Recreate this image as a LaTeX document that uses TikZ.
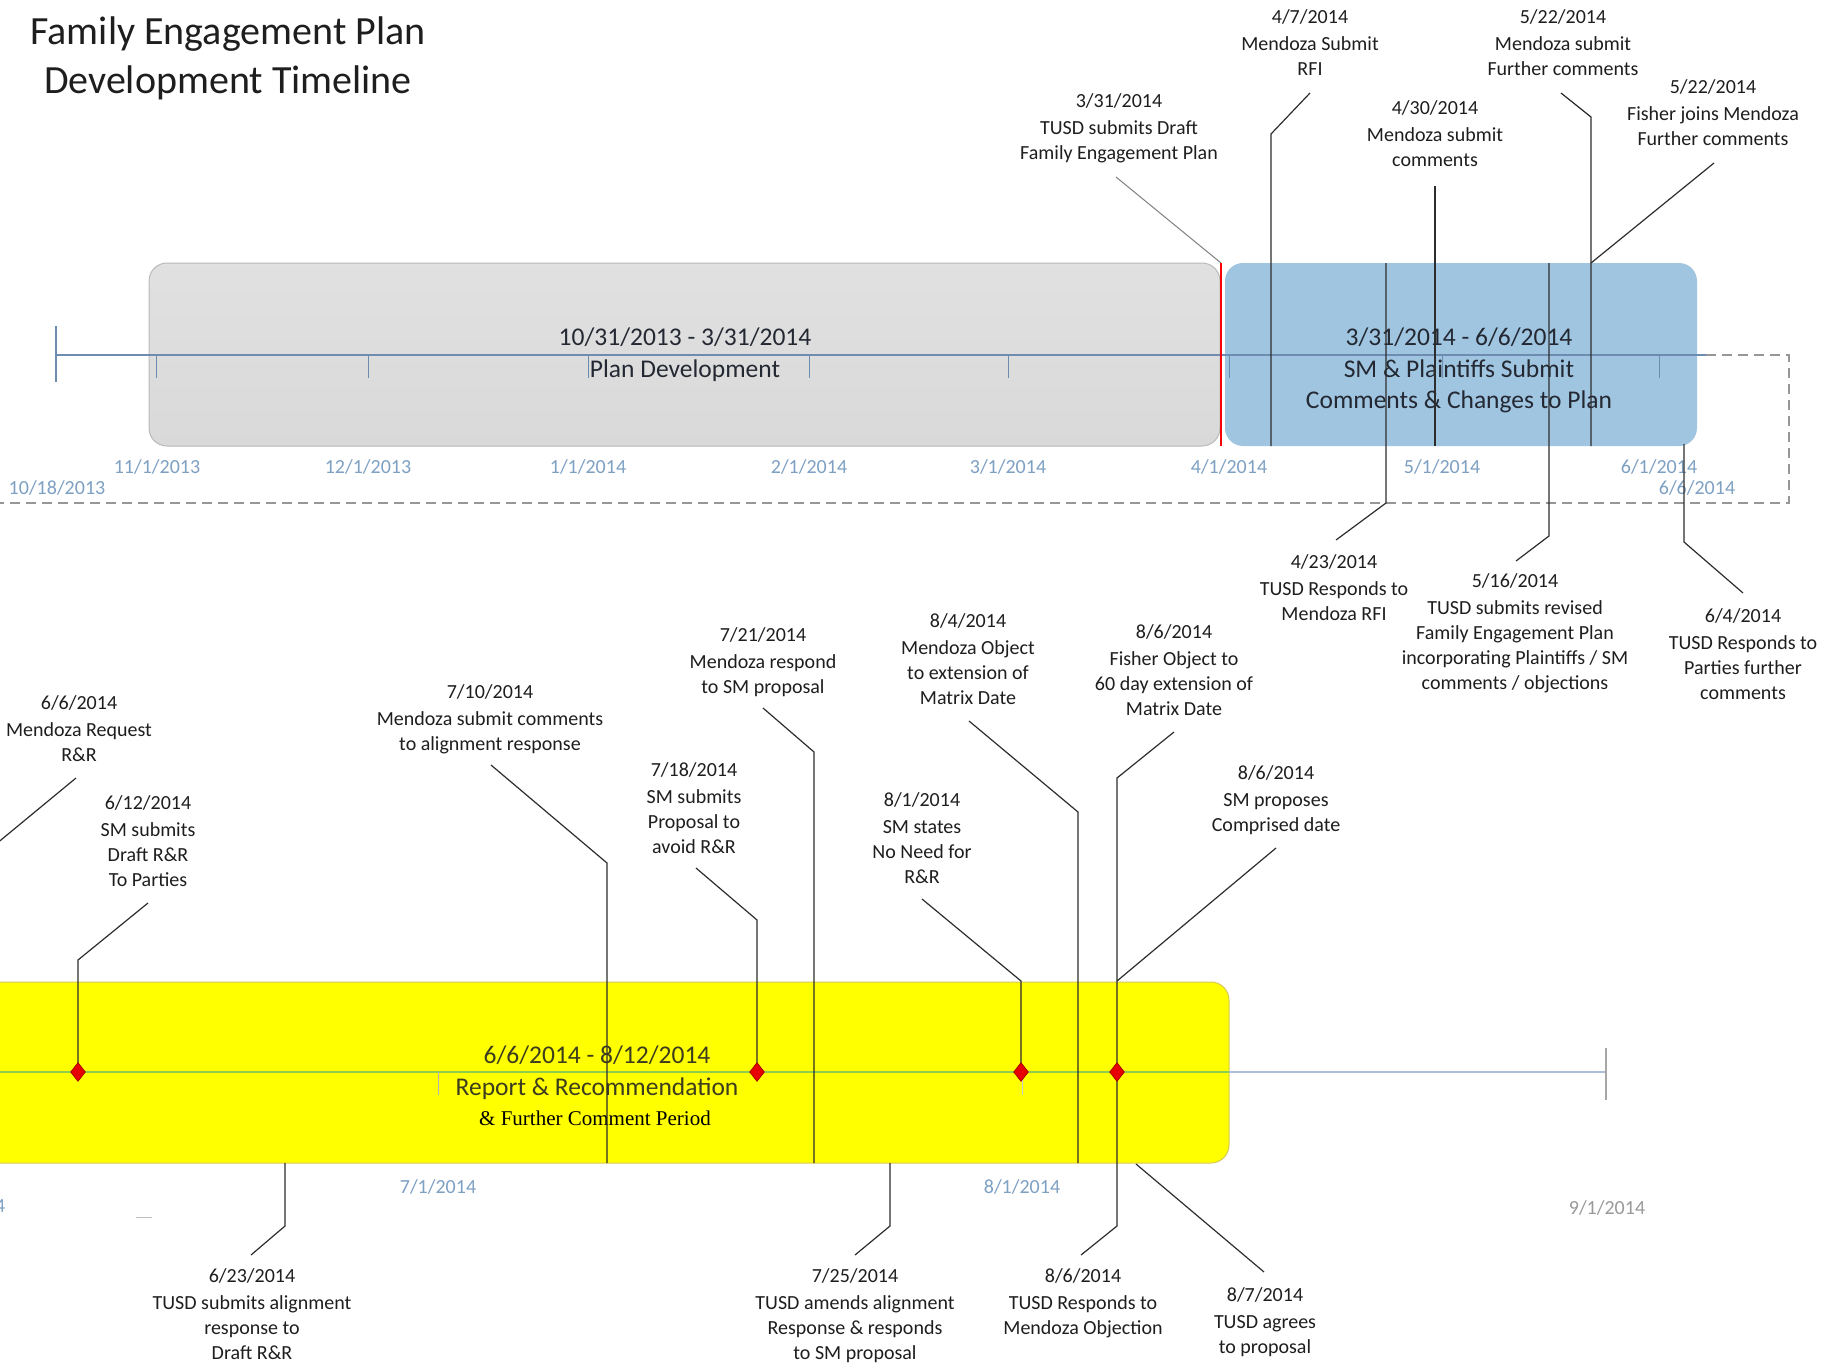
\documentclass[tikz,border=0pt]{standalone}
\usepackage{fontspec}
\setmainfont{Carlito}
\newfontfamily\serifx{Liberation Serif}
\usetikzlibrary{shapes.geometric}
\definecolor{greyfill}{RGB}{217,217,217}
\definecolor{greyedge}{RGB}{185,185,185}
\definecolor{bluefill}{RGB}{160,197,225}
\definecolor{axisblue}{RGB}{110,140,175}
\definecolor{monthblue}{RGB}{125,160,195}
\definecolor{dashgrey}{RGB}{150,150,150}
\definecolor{leader}{RGB}{45,45,45}
\definecolor{yel}{RGB}{255,255,0}
\definecolor{yeledge}{RGB}{215,200,90}
\definecolor{axisgreen}{RGB}{140,205,80}
\definecolor{axislight}{RGB}{175,190,215}
\definecolor{diamondred}{RGB}{230,0,0}
\definecolor{txt}{RGB}{30,30,30}
\definecolor{boxtxtc}{RGB}{35,40,50}
\definecolor{yeltxt}{RGB}{60,60,30}
\begin{document}
\begin{tikzpicture}[x=1pt,y=-1pt,
  lbl/.style={align=center,inner sep=0pt,anchor=north,text=txt,font=\fontsize{20}{25}\selectfont},
  month/.style={inner sep=0pt,text=monthblue,font=\fontsize{20}{22}\selectfont},
  boxtxt/.style={align=center,inner sep=0pt,anchor=north,text=boxtxtc,font=\fontsize{25.5}{31.5}\selectfont},
  lead/.style={draw=leader,line width=1.2pt},
  tickm/.style={draw=axisblue,line width=0.9pt},
  diam/.style={diamond,fill=diamondred,draw=red!55!black,line width=0.5pt,inner sep=0pt,minimum width=15pt,minimum height=19pt},
]
\useasboundingbox (0,0) rectangle (1826,1368);
\fill[white] (0,0) rectangle (1826,1368);

% ---------- title ----------
\node[anchor=base,inner sep=0pt,text=txt,font=\fontsize{40}{48}\selectfont] (title1) at (228,44) {Family Engagement Plan};
\node[anchor=base,inner sep=0pt,text=txt,font=\fontsize{40}{48}\selectfont] (title2) at (228,93) {Development Timeline};

% ---------- top timeline ----------
\coordinate (dsA) at (1706,355);
\coordinate (dsB) at (1789,355);
\coordinate (dsC) at (1789,503);
\coordinate (dsD) at (0,503);
\draw[dashgrey,line width=1.3pt,dash pattern=on 10pt off 6pt] (dsA) -- (dsB) -- (dsC) -- (dsD);

\draw[top color=greyfill!80,bottom color=greyfill,draw=greyedge,line width=1pt,rounded corners=18pt] (149,263) rectangle (1220,446);
\fill[bluefill,rounded corners=18pt] (1225,263) rectangle (1697,446);

\coordinate (axL) at (56,355);
\coordinate (axR) at (1706,355);
\draw[axisblue,line width=1.2pt] (axL) -- (axR);
\draw[axisblue,line width=1.2pt] (56,326) -- (56,382);
\foreach \mx in {156,368,588,809,1008,1229,1442,1659}{
  \draw[tickm] (\mx,355) -- (\mx,378);
}

\node[month] (m1) at (157,467) {11/1/2013};
\node[month] (m2) at (368,467) {12/1/2013};
\node[month] (m3) at (588,467) {1/1/2014};
\node[month] (m4) at (809,467) {2/1/2014};
\node[month] (m5) at (1008,467) {3/1/2014};
\node[month] (m6) at (1229,467) {4/1/2014};
\node[month] (m7) at (1442,467) {5/1/2014};
\node[month] (m8) at (1659,467) {6/1/2014};
\node[month] (m9) at (57,488) {10/18/2013};
\node[month] (m10) at (1697,488) {6/6/2014};

\node[boxtxt] (gbox) at (685,328) {10/31/2013 - 3/31/2014\\Plan Development};
\node[boxtxt] (bbox) at (1459,328) {3/31/2014 - 6/6/2014\\SM \& Plaintiffs Submit\\Comments \& Changes to Plan};

% top labels
\node[lbl] (L1) at (1119,93) {3/31/2014\\[2pt]TUSD submits Draft\\Family Engagement Plan};
\node[lbl] (L2) at (1310,9) {4/7/2014\\[2pt]Mendoza Submit\\RFI};
\node[lbl] (L3) at (1435,100) {4/30/2014\\[2pt]Mendoza submit\\comments};
\node[lbl] (L4) at (1563,9) {5/22/2014\\[2pt]Mendoza submit\\Further comments};
\node[lbl] (L5) at (1713,79) {5/22/2014\\[2pt]Fisher joins Mendoza\\Further comments};
\node[lbl] (L6) at (1334,554) {4/23/2014\\[2pt]TUSD Responds to\\Mendoza RFI};
\node[lbl] (L7) at (1515,573) {5/16/2014\\[2pt]TUSD submits revised\\Family Engagement Plan\\incorporating Plaintiffs / SM\\comments / objections};
\node[lbl] (L8) at (1743,608) {6/4/2014\\[2pt]TUSD Responds to\\Parties further\\comments};

% top leaders
\coordinate (c1a) at (1116,177); \coordinate (c1b) at (1221,263); \coordinate (c1c) at (1221,446);
\draw[draw=gray,line width=1pt] (c1a) -- (c1b);
\draw[red,line width=1.4pt] (c1b) -- (c1c);
\coordinate (c2a) at (1310,93); \coordinate (c2b) at (1271,134); \coordinate (c2c) at (1271,446);
\draw[lead] (c2a) -- (c2b) -- (c2c);
\coordinate (c3a) at (1435,186); \coordinate (c3b) at (1435,446);
\draw[lead] (c3a) -- (c3b);
\coordinate (c4a) at (1561,93); \coordinate (c4b) at (1591,117); \coordinate (c4c) at (1591,446);
\draw[lead] (c4a) -- (c4b) -- (c4c);
\coordinate (c5a) at (1714,163); \coordinate (c5b) at (1591,263);
\draw[lead] (c5a) -- (c5b);
\coordinate (c6a) at (1386,263); \coordinate (c6b) at (1386,503); \coordinate (c6c) at (1336,540);
\draw[lead] (c6a) -- (c6b) -- (c6c);
\coordinate (c7a) at (1549,263); \coordinate (c7b) at (1549,536); \coordinate (c7c) at (1516,561);
\draw[lead] (c7a) -- (c7b) -- (c7c);
\coordinate (c8a) at (1684,444); \coordinate (c8b) at (1684,542); \coordinate (c8c) at (1743,593);
\draw[lead] (c8a) -- (c8b) -- (c8c);

% ---------- bottom timeline ----------
\draw[fill=yel,draw=yeledge,line width=1pt,rounded corners=18pt] (-60,982) rectangle (1229,1163);
\coordinate (bxL) at (0,1072);
\coordinate (bxM) at (1229,1072);
\coordinate (bxR) at (1606,1072);
\draw[axisgreen,line width=2pt] (bxL) -- (bxM);
\draw[axislight,line width=2pt] (bxM) -- (bxR);
\draw[gray!70,line width=1.2pt] (1606,1048) -- (1606,1100);
\draw[gray!60,line width=0.9pt] (438,1072) -- (438,1095);
\draw[gray!40,line width=0.9pt] (1022,1072) -- (1022,1095);
\draw[gray!50,line width=1pt] (136,1217) -- (152,1217);

\node[month] (n1) at (438,1187) {7/1/2014};
\node[month] (n2) at (1022,1187) {8/1/2014};
\node[month,text=gray!80] (n3) at (1607,1208) {9/1/2014};
\node[month] (n4) at (-33,1206) {6/6/2014};

\node[boxtxt,text=yeltxt] (ybox) at (597,1046) {6/6/2014 - 8/12/2014\\Report \& Recommendation};
\node[inner sep=0pt,text=black,font=\serifx\fontsize{21}{25}\selectfont] (ybox2) at (595,1118) {\& Further Comment Period};

% bottom labels
\node[lbl] (B1) at (79,695) {6/6/2014\\[2pt]Mendoza Request\\R\&R};
\node[lbl] (B2) at (148,795) {6/12/2014\\[2pt]SM submits\\Draft R\&R\\To Parties};
\node[lbl] (B3) at (490,684) {7/10/2014\\[2pt]Mendoza submit comments\\to alignment response};
\node[lbl] (B4) at (694,762) {7/18/2014\\[2pt]SM submits\\Proposal to\\avoid R\&R};
\node[lbl] (B5) at (763,627) {7/21/2014\\[2pt]Mendoza respond\\to SM proposal};
\node[lbl] (B6) at (922,792) {8/1/2014\\[2pt]SM states\\No Need for\\R\&R};
\node[lbl] (B7) at (968,613) {8/4/2014\\[2pt]Mendoza Object\\to extension of\\Matrix Date};
\node[lbl] (B8) at (1174,624) {8/6/2014\\[2pt]Fisher Object to\\60 day extension of\\Matrix Date};
\node[lbl] (B9) at (1276,765) {8/6/2014\\[2pt]SM proposes\\Comprised date};
\node[lbl] (B10) at (252,1268) {6/23/2014\\[2pt]TUSD submits alignment\\response to\\Draft R\&R};
\node[lbl] (B11) at (855,1268) {7/25/2014\\[2pt]TUSD amends alignment\\Response \& responds\\to SM proposal};
\node[lbl] (B12) at (1083,1268) {8/6/2014\\[2pt]TUSD Responds to\\Mendoza Objection};
\node[lbl] (B13) at (1265,1287) {8/7/2014\\[2pt]TUSD agrees\\to proposal};

% diamonds positions
\coordinate (dp1) at (78,1072);
\coordinate (dp2) at (757,1072);
\coordinate (dp3) at (1021,1072);
\coordinate (dp4) at (1117,1072);

% bottom leaders
\coordinate (d1a) at (76,778); \coordinate (d1b) at (-33,868); \coordinate (d1c) at (-33,1072);
\draw[lead] (d1a) -- (d1b) -- (d1c);
\coordinate (d2a) at (148,903); \coordinate (d2b) at (78,960);
\draw[lead] (d2a) -- (d2b) -- (dp1);
\coordinate (d3a) at (491,765); \coordinate (d3b) at (607,863); \coordinate (d3c) at (607,1163);
\draw[lead] (d3a) -- (d3b) -- (d3c);
\coordinate (d4a) at (696,868); \coordinate (d4b) at (757,920);
\draw[lead] (d4a) -- (d4b) -- (dp2);
\coordinate (d5a) at (763,708); \coordinate (d5b) at (814,752); \coordinate (d5c) at (814,1163);
\draw[lead] (d5a) -- (d5b) -- (d5c);
\coordinate (d6a) at (922,899); \coordinate (d6b) at (1021,981);
\draw[lead] (d6a) -- (d6b) -- (dp3);
\coordinate (d7a) at (969,721); \coordinate (d7b) at (1078,812); \coordinate (d7c) at (1078,1163);
\draw[lead] (d7a) -- (d7b) -- (d7c);
\coordinate (d8a) at (1174,732); \coordinate (d8b) at (1117,778); \coordinate (d8c) at (1117,1226); \coordinate (d8d) at (1081,1255);
\draw[lead] (d8a) -- (d8b) -- (d8c) -- (d8d);
\coordinate (d9a) at (1276,848); \coordinate (d9b) at (1117,981);
\draw[lead] (d9a) -- (d9b);
\coordinate (d10a) at (285,1163); \coordinate (d10b) at (285,1226); \coordinate (d10c) at (251,1255);
\draw[lead] (d10a) -- (d10b) -- (d10c);
\coordinate (d11a) at (890,1163); \coordinate (d11b) at (890,1226); \coordinate (d11c) at (855,1255);
\draw[lead] (d11a) -- (d11b) -- (d11c);
\coordinate (d13a) at (1136,1164); \coordinate (d13b) at (1264,1272);
\draw[lead] (d13a) -- (d13b);

\node[diam] (dm1) at (dp1) {};
\node[diam] (dm2) at (dp2) {};
\node[diam] (dm3) at (dp3) {};
\node[diam] (dm4) at (dp4) {};
\end{tikzpicture}
\end{document}
